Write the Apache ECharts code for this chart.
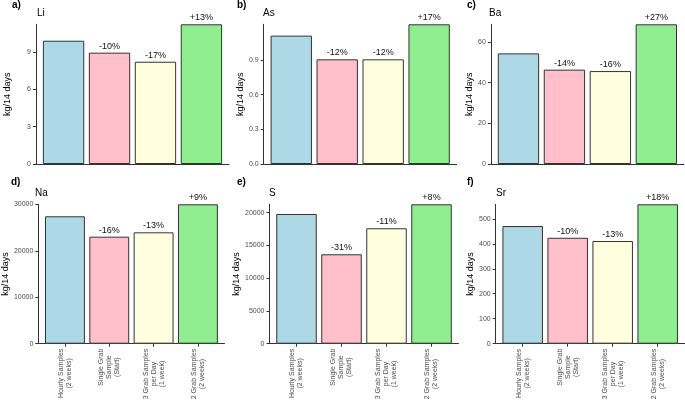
<!DOCTYPE html>
<html>
<head>
<meta charset="utf-8">
<script src="https://cdn.jsdelivr.net/npm/echarts@6/dist/echarts.min.js"></script>
<style>html,body{margin:0;padding:0;background:#fff}#c{width:685px;height:403px}</style>
</head>
<body>
<div id="c"></div>
<script>
// ---- data ----
const categories = ['Hourly Samples\n(2 weeks)', 'Single Grab\nSample\n(Start)', '3 Grab Samples\nper Day\n(1 week)', '2 Grab Samples\n(2 weeks)'];
const barColors = ['#ADD8E6', '#FFC0CB', '#FFFFE0', '#90EE90'];
const elements = ['Li', 'As', 'Ba', 'Na', 'S', 'Sr'];
const panelLetters = ['a)', 'b)', 'c)', 'd)', 'e)', 'f)'];
const liValues = [9.91, 8.95, 8.22, 11.23];
const asValues = [1.11, 0.905, 0.905, 1.208];
const baValues = [54.4, 46.4, 45.7, 68.7];
const naValues = [27420, 23030, 23970, 30000];
const sValues = [19800, 13650, 17620, 21280];
const srValues = [471, 424, 411, 558];
const liPct = ['', '-10%', '-17%', '+13%'];
const asPct = ['', '-12%', '-12%', '+17%'];
const baPct = ['', '-14%', '-16%', '+27%'];
const naPct = ['', '-16%', '-13%', '+9%'];
const sPct = ['', '-31%', '-11%', '+8%'];
const srPct = ['', '-10%', '-13%', '+18%'];
const liTicks = [0, 3, 6, 9];
const asTicks = [0, 0.3, 0.6, 0.9];
const baTicks = [0, 20, 40, 60];
const naTicks = [0, 10000, 20000, 30000];
const sTicks = [0, 5000, 10000, 15000, 20000];
const srTicks = [0, 100, 200, 300, 400, 500];
const yName = 'kg/14 days';

// ---- layout ----
const FONT = 'Liberation Sans, Arial, sans-serif';
const panels = [
  {values: liValues, pct: liPct, ticks: liTicks, dec: 0, grid: {left: 36, top: 24.3, width: 193, height: 139.7}, gap: 24, lx: 12, ly: 0.5, tx: 37, ty: 8},
  {values: asValues, pct: asPct, ticks: asTicks, dec: 1, grid: {left: 263.7, top: 24.3, width: 193, height: 139.7}, gap: 19, lx: 237, ly: 0.5, tx: 263, ty: 8},
  {values: baValues, pct: baPct, ticks: baTicks, dec: 0, grid: {left: 490.9, top: 24.3, width: 193, height: 139.7}, gap: 16, lx: 467, ly: 0.5, tx: 489, ty: 8},
  {values: naValues, pct: naPct, ticks: naTicks, dec: 0, grid: {left: 35.5, top: 204.3, width: 189, height: 139.4}, gap: 26, lx: 11, ly: 177, tx: 35, ty: 188},
  {values: sValues, pct: sPct, ticks: sTicks, dec: 0, grid: {left: 269.5, top: 204.3, width: 189, height: 139.4}, gap: 25, lx: 237, ly: 177, tx: 269, ty: 188},
  {values: srValues, pct: srPct, ticks: srTicks, dec: 0, grid: {left: 495.7, top: 204.3, width: 189, height: 139.4}, gap: 21, lx: 467, ly: 177, tx: 496, ty: 188}
];

const axisCol = '#333333';
const labCol = '#4d4d4d';
const grids = [], xAxes = [], yAxes = [], series = [], graphics = [];
const catIdx = [0, 1, 2, 3];

panels.forEach((p, i) => {
  grids.push(Object.assign({containLabel: false}, p.grid));
  const bottomRow = i >= 3;
  xAxes.push({
    type: 'value', gridIndex: i, min: -0.6, max: 3.6,
    splitLine: {show: false},
    axisLine: {show: true, onZero: false, lineStyle: {color: axisCol, width: 1}},
    axisTick: {show: bottomRow, customValues: catIdx, length: 3, lineStyle: {color: axisCol}},
    axisLabel: {
      show: bottomRow, customValues: catIdx, rotate: 90, margin: 5,
      formatter: v => {
        const c = categories[Math.round(v)];
        if (c === undefined) return '';
        return c.split('\n').map(s => '{c|' + s + '}').join('\n');
      },
      rich: {c: {align: 'center', fontSize: 7, lineHeight: 8, color: labCol, fontFamily: FONT}}
    }
  });
  const mx = Math.max(...p.values);
  yAxes.push({
    type: 'value', gridIndex: i, min: 0, max: mx,
    name: yName, nameLocation: 'middle', nameGap: p.gap,
    nameTextStyle: {fontSize: 9, color: '#000', fontFamily: FONT},
    splitLine: {show: false},
    axisLine: {show: true, onZero: false, lineStyle: {color: axisCol, width: 1}},
    axisTick: {show: true, customValues: p.ticks, length: 3, lineStyle: {color: axisCol}},
    axisLabel: {customValues: p.ticks, margin: 5, fontSize: 7, color: labCol, fontFamily: FONT,
      formatter: v => v.toFixed(p.dec)}
  });
  series.push({
    type: 'bar', xAxisIndex: i, yAxisIndex: i, barWidth: '90%',
    data: p.values.map((v, k) => ({value: [k, v], itemStyle: {color: barColors[k]}})),
    itemStyle: {borderColor: axisCol, borderWidth: 1},
    label: {show: true, position: 'top', distance: 2, fontSize: 9, color: '#111', fontFamily: FONT,
      formatter: prm => p.pct[prm.dataIndex]},
    silent: true, animation: false
  });
  graphics.push({type: 'text', left: p.lx, top: p.ly,
    style: {text: panelLetters[i], font: 'bold 10px ' + FONT, fill: '#000'}});
  graphics.push({type: 'text', left: p.tx, top: p.ty,
    style: {text: elements[i], font: '10px ' + FONT, fill: '#000'}});
});

const chart = echarts.init(document.getElementById('c'), null, {renderer: 'canvas'});
chart.setOption({
  backgroundColor: '#ffffff',
  animation: false,
  grid: grids, xAxis: xAxes, yAxis: yAxes, series: series, graphic: graphics
});
</script>
</body>
</html>
